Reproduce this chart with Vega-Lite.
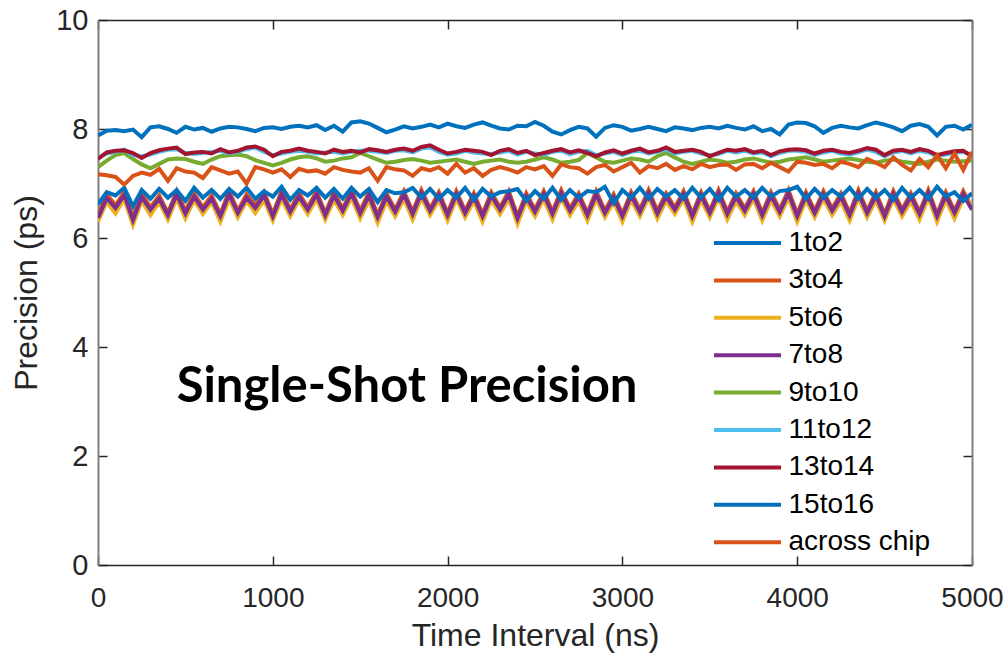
{
  "$schema": "https://vega.github.io/schema/vega-lite/v6.json",
  "width": 874,
  "height": 545,
  "autosize": {"type": "none"},
  "padding": {"left": 98, "top": 20, "right": 33, "bottom": 92},
  "background": "white",
  "config": {"view": {"stroke": null}, "font": "Liberation Sans"},
  "datasets": {
    "prec": [
      {"t":0,"1to2":7.88,"3to4":6.42,"5to6":6.30,"7to8":6.37,"9to10":7.30,"11to12":7.47,"13to14":7.45,"15to16":6.62,"across chip":7.17},
      {"t":50,"1to2":7.97,"3to4":6.80,"5to6":6.66,"7to8":6.73,"9to10":7.42,"11to12":7.55,"13to14":7.57,"15to16":6.84,"across chip":7.15},
      {"t":100,"1to2":7.98,"3to4":6.60,"5to6":6.45,"7to8":6.55,"9to10":7.52,"11to12":7.58,"13to14":7.60,"15to16":6.78,"across chip":7.12},
      {"t":150,"1to2":7.96,"3to4":6.84,"5to6":6.72,"7to8":6.79,"9to10":7.56,"11to12":7.62,"13to14":7.61,"15to16":6.92,"across chip":6.98},
      {"t":200,"1to2":7.99,"3to4":6.38,"5to6":6.24,"7to8":6.33,"9to10":7.45,"11to12":7.52,"13to14":7.56,"15to16":6.58,"across chip":7.14},
      {"t":250,"1to2":7.85,"3to4":6.82,"5to6":6.68,"7to8":6.75,"9to10":7.35,"11to12":7.50,"13to14":7.47,"15to16":6.88,"across chip":7.20},
      {"t":300,"1to2":8.03,"3to4":6.56,"5to6":6.42,"7to8":6.52,"9to10":7.28,"11to12":7.53,"13to14":7.56,"15to16":6.72,"across chip":7.16},
      {"t":350,"1to2":8.05,"3to4":6.78,"5to6":6.66,"7to8":6.72,"9to10":7.36,"11to12":7.58,"13to14":7.61,"15to16":6.90,"across chip":7.27},
      {"t":400,"1to2":8.00,"3to4":6.46,"5to6":6.34,"7to8":6.42,"9to10":7.44,"11to12":7.62,"13to14":7.64,"15to16":6.74,"across chip":7.05},
      {"t":450,"1to2":7.93,"3to4":6.86,"5to6":6.72,"7to8":6.80,"9to10":7.46,"11to12":7.63,"13to14":7.66,"15to16":6.88,"across chip":7.28},
      {"t":500,"1to2":8.04,"3to4":6.50,"5to6":6.36,"7to8":6.45,"9to10":7.45,"11to12":7.56,"13to14":7.54,"15to16":6.68,"across chip":7.22},
      {"t":550,"1to2":7.99,"3to4":6.82,"5to6":6.70,"7to8":6.76,"9to10":7.40,"11to12":7.54,"13to14":7.57,"15to16":6.92,"across chip":7.20},
      {"t":600,"1to2":8.02,"3to4":6.56,"5to6":6.44,"7to8":6.52,"9to10":7.36,"11to12":7.56,"13to14":7.58,"15to16":6.74,"across chip":7.10},
      {"t":650,"1to2":7.95,"3to4":6.78,"5to6":6.66,"7to8":6.72,"9to10":7.44,"11to12":7.58,"13to14":7.55,"15to16":6.88,"across chip":7.30},
      {"t":700,"1to2":8.01,"3to4":6.44,"5to6":6.30,"7to8":6.40,"9to10":7.50,"11to12":7.60,"13to14":7.63,"15to16":6.72,"across chip":7.24},
      {"t":750,"1to2":8.04,"3to4":6.86,"5to6":6.72,"7to8":6.80,"9to10":7.52,"11to12":7.55,"13to14":7.57,"15to16":6.90,"across chip":7.18},
      {"t":800,"1to2":8.03,"3to4":6.50,"5to6":6.38,"7to8":6.46,"9to10":7.53,"11to12":7.58,"13to14":7.60,"15to16":6.76,"across chip":7.22},
      {"t":850,"1to2":8.00,"3to4":6.80,"5to6":6.68,"7to8":6.74,"9to10":7.50,"11to12":7.63,"13to14":7.66,"15to16":6.92,"across chip":7.00},
      {"t":900,"1to2":7.96,"3to4":6.60,"5to6":6.46,"7to8":6.55,"9to10":7.43,"11to12":7.66,"13to14":7.68,"15to16":6.72,"across chip":7.30},
      {"t":950,"1to2":8.02,"3to4":6.84,"5to6":6.70,"7to8":6.78,"9to10":7.38,"11to12":7.58,"13to14":7.62,"15to16":6.86,"across chip":7.26},
      {"t":1000,"1to2":8.03,"3to4":6.44,"5to6":6.32,"7to8":6.40,"9to10":7.33,"11to12":7.52,"13to14":7.50,"15to16":6.76,"across chip":7.20},
      {"t":1050,"1to2":8.00,"3to4":6.86,"5to6":6.72,"7to8":6.80,"9to10":7.38,"11to12":7.55,"13to14":7.58,"15to16":6.94,"across chip":7.26},
      {"t":1100,"1to2":8.04,"3to4":6.52,"5to6":6.40,"7to8":6.48,"9to10":7.44,"11to12":7.58,"13to14":7.60,"15to16":6.70,"across chip":7.12},
      {"t":1150,"1to2":8.06,"3to4":6.82,"5to6":6.70,"7to8":6.76,"9to10":7.48,"11to12":7.60,"13to14":7.64,"15to16":6.88,"across chip":7.27},
      {"t":1200,"1to2":8.03,"3to4":6.56,"5to6":6.44,"7to8":6.52,"9to10":7.50,"11to12":7.58,"13to14":7.60,"15to16":6.78,"across chip":7.22},
      {"t":1250,"1to2":8.07,"3to4":6.86,"5to6":6.72,"7to8":6.80,"9to10":7.46,"11to12":7.55,"13to14":7.58,"15to16":6.92,"across chip":7.24},
      {"t":1300,"1to2":7.98,"3to4":6.46,"5to6":6.34,"7to8":6.42,"9to10":7.40,"11to12":7.57,"13to14":7.55,"15to16":6.74,"across chip":7.18},
      {"t":1350,"1to2":8.06,"3to4":6.84,"5to6":6.70,"7to8":6.78,"9to10":7.42,"11to12":7.58,"13to14":7.62,"15to16":6.90,"across chip":7.30},
      {"t":1400,"1to2":7.95,"3to4":6.54,"5to6":6.42,"7to8":6.50,"9to10":7.46,"11to12":7.55,"13to14":7.58,"15to16":6.72,"across chip":7.25},
      {"t":1450,"1to2":8.12,"3to4":6.88,"5to6":6.74,"7to8":6.82,"9to10":7.48,"11to12":7.58,"13to14":7.60,"15to16":6.92,"across chip":7.22},
      {"t":1500,"1to2":8.14,"3to4":6.50,"5to6":6.36,"7to8":6.45,"9to10":7.56,"11to12":7.60,"13to14":7.57,"15to16":6.76,"across chip":7.20},
      {"t":1550,"1to2":8.10,"3to4":6.84,"5to6":6.70,"7to8":6.78,"9to10":7.50,"11to12":7.60,"13to14":7.63,"15to16":6.90,"across chip":7.28},
      {"t":1600,"1to2":8.02,"3to4":6.42,"5to6":6.28,"7to8":6.38,"9to10":7.44,"11to12":7.58,"13to14":7.61,"15to16":6.66,"across chip":7.05},
      {"t":1650,"1to2":7.94,"3to4":6.82,"5to6":6.68,"7to8":6.76,"9to10":7.38,"11to12":7.56,"13to14":7.58,"15to16":6.88,"across chip":7.30},
      {"t":1700,"1to2":7.99,"3to4":6.52,"5to6":6.40,"7to8":6.48,"9to10":7.40,"11to12":7.60,"13to14":7.62,"15to16":6.82,"across chip":7.26},
      {"t":1750,"1to2":8.05,"3to4":6.86,"5to6":6.72,"7to8":6.80,"9to10":7.43,"11to12":7.61,"13to14":7.64,"15to16":6.84,"across chip":7.24},
      {"t":1800,"1to2":8.01,"3to4":6.48,"5to6":6.34,"7to8":6.44,"9to10":7.45,"11to12":7.57,"13to14":7.60,"15to16":6.92,"across chip":7.14},
      {"t":1850,"1to2":8.04,"3to4":6.88,"5to6":6.74,"7to8":6.82,"9to10":7.42,"11to12":7.64,"13to14":7.67,"15to16":6.74,"across chip":7.28},
      {"t":1900,"1to2":8.08,"3to4":6.54,"5to6":6.42,"7to8":6.50,"9to10":7.38,"11to12":7.66,"13to14":7.70,"15to16":6.90,"across chip":7.24},
      {"t":1950,"1to2":8.03,"3to4":6.84,"5to6":6.70,"7to8":6.78,"9to10":7.40,"11to12":7.58,"13to14":7.62,"15to16":6.72,"across chip":7.30},
      {"t":2000,"1to2":8.10,"3to4":6.46,"5to6":6.32,"7to8":6.42,"9to10":7.42,"11to12":7.53,"13to14":7.55,"15to16":6.88,"across chip":7.18},
      {"t":2050,"1to2":8.05,"3to4":6.86,"5to6":6.72,"7to8":6.80,"9to10":7.44,"11to12":7.55,"13to14":7.58,"15to16":6.74,"across chip":7.36},
      {"t":2100,"1to2":8.02,"3to4":6.50,"5to6":6.38,"7to8":6.46,"9to10":7.40,"11to12":7.60,"13to14":7.62,"15to16":6.92,"across chip":7.20},
      {"t":2150,"1to2":8.08,"3to4":6.82,"5to6":6.68,"7to8":6.76,"9to10":7.36,"11to12":7.57,"13to14":7.60,"15to16":6.70,"across chip":7.28},
      {"t":2200,"1to2":8.12,"3to4":6.44,"5to6":6.30,"7to8":6.40,"9to10":7.40,"11to12":7.55,"13to14":7.58,"15to16":6.90,"across chip":7.14},
      {"t":2250,"1to2":8.06,"3to4":6.84,"5to6":6.70,"7to8":6.78,"9to10":7.42,"11to12":7.54,"13to14":7.52,"15to16":6.76,"across chip":7.25},
      {"t":2300,"1to2":8.01,"3to4":6.56,"5to6":6.44,"7to8":6.52,"9to10":7.44,"11to12":7.57,"13to14":7.60,"15to16":6.84,"across chip":7.30},
      {"t":2350,"1to2":7.99,"3to4":6.86,"5to6":6.72,"7to8":6.80,"9to10":7.40,"11to12":7.60,"13to14":7.63,"15to16":6.86,"across chip":7.26},
      {"t":2400,"1to2":8.06,"3to4":6.40,"5to6":6.26,"7to8":6.36,"9to10":7.38,"11to12":7.53,"13to14":7.56,"15to16":6.90,"across chip":7.20},
      {"t":2450,"1to2":8.05,"3to4":6.82,"5to6":6.68,"7to8":6.76,"9to10":7.40,"11to12":7.58,"13to14":7.60,"15to16":6.68,"across chip":7.30},
      {"t":2500,"1to2":8.13,"3to4":6.52,"5to6":6.40,"7to8":6.48,"9to10":7.44,"11to12":7.55,"13to14":7.52,"15to16":6.86,"across chip":7.26},
      {"t":2550,"1to2":8.06,"3to4":6.86,"5to6":6.72,"7to8":6.80,"9to10":7.48,"11to12":7.53,"13to14":7.56,"15to16":6.72,"across chip":7.32},
      {"t":2600,"1to2":7.95,"3to4":6.48,"5to6":6.34,"7to8":6.44,"9to10":7.44,"11to12":7.58,"13to14":7.60,"15to16":6.92,"across chip":7.14},
      {"t":2650,"1to2":7.90,"3to4":6.88,"5to6":6.74,"7to8":6.82,"9to10":7.38,"11to12":7.60,"13to14":7.63,"15to16":6.70,"across chip":7.35},
      {"t":2700,"1to2":7.98,"3to4":6.54,"5to6":6.42,"7to8":6.50,"9to10":7.40,"11to12":7.54,"13to14":7.57,"15to16":6.88,"across chip":7.30},
      {"t":2750,"1to2":8.04,"3to4":6.82,"5to6":6.68,"7to8":6.76,"9to10":7.43,"11to12":7.58,"13to14":7.61,"15to16":6.74,"across chip":7.28},
      {"t":2800,"1to2":8.01,"3to4":6.46,"5to6":6.32,"7to8":6.42,"9to10":7.56,"11to12":7.60,"13to14":7.56,"15to16":6.86,"across chip":7.18},
      {"t":2850,"1to2":7.86,"3to4":6.86,"5to6":6.72,"7to8":6.80,"9to10":7.48,"11to12":7.52,"13to14":7.50,"15to16":6.84,"across chip":7.30},
      {"t":2900,"1to2":8.02,"3to4":6.50,"5to6":6.38,"7to8":6.46,"9to10":7.40,"11to12":7.55,"13to14":7.57,"15to16":6.94,"across chip":7.34},
      {"t":2950,"1to2":8.07,"3to4":6.80,"5to6":6.66,"7to8":6.74,"9to10":7.38,"11to12":7.58,"13to14":7.61,"15to16":6.64,"across chip":7.22},
      {"t":3000,"1to2":8.04,"3to4":6.44,"5to6":6.30,"7to8":6.40,"9to10":7.42,"11to12":7.52,"13to14":7.55,"15to16":6.88,"across chip":7.30},
      {"t":3050,"1to2":7.97,"3to4":6.84,"5to6":6.70,"7to8":6.78,"9to10":7.46,"11to12":7.58,"13to14":7.60,"15to16":6.74,"across chip":7.38},
      {"t":3100,"1to2":8.00,"3to4":6.52,"5to6":6.40,"7to8":6.48,"9to10":7.44,"11to12":7.60,"13to14":7.64,"15to16":6.92,"across chip":7.20},
      {"t":3150,"1to2":8.04,"3to4":6.88,"5to6":6.74,"7to8":6.82,"9to10":7.40,"11to12":7.55,"13to14":7.57,"15to16":6.72,"across chip":7.32},
      {"t":3200,"1to2":8.00,"3to4":6.50,"5to6":6.36,"7to8":6.45,"9to10":7.50,"11to12":7.58,"13to14":7.60,"15to16":6.90,"across chip":7.28},
      {"t":3250,"1to2":7.96,"3to4":6.82,"5to6":6.68,"7to8":6.76,"9to10":7.56,"11to12":7.63,"13to14":7.66,"15to16":6.76,"across chip":7.36},
      {"t":3300,"1to2":8.03,"3to4":6.56,"5to6":6.44,"7to8":6.52,"9to10":7.48,"11to12":7.55,"13to14":7.58,"15to16":6.88,"across chip":7.25},
      {"t":3350,"1to2":8.01,"3to4":6.86,"5to6":6.72,"7to8":6.80,"9to10":7.40,"11to12":7.58,"13to14":7.60,"15to16":6.72,"across chip":7.32},
      {"t":3400,"1to2":7.98,"3to4":6.44,"5to6":6.30,"7to8":6.40,"9to10":7.36,"11to12":7.60,"13to14":7.62,"15to16":6.92,"across chip":7.26},
      {"t":3450,"1to2":8.02,"3to4":6.84,"5to6":6.70,"7to8":6.78,"9to10":7.40,"11to12":7.55,"13to14":7.58,"15to16":6.74,"across chip":7.36},
      {"t":3500,"1to2":8.04,"3to4":6.50,"5to6":6.38,"7to8":6.46,"9to10":7.44,"11to12":7.52,"13to14":7.50,"15to16":6.90,"across chip":7.30},
      {"t":3550,"1to2":8.01,"3to4":6.88,"5to6":6.74,"7to8":6.82,"9to10":7.42,"11to12":7.54,"13to14":7.56,"15to16":6.70,"across chip":7.34},
      {"t":3600,"1to2":8.06,"3to4":6.48,"5to6":6.34,"7to8":6.44,"9to10":7.38,"11to12":7.60,"13to14":7.62,"15to16":6.92,"across chip":7.35},
      {"t":3650,"1to2":8.02,"3to4":6.82,"5to6":6.68,"7to8":6.76,"9to10":7.40,"11to12":7.57,"13to14":7.60,"15to16":6.76,"across chip":7.25},
      {"t":3700,"1to2":7.99,"3to4":6.54,"5to6":6.42,"7to8":6.50,"9to10":7.44,"11to12":7.60,"13to14":7.63,"15to16":6.88,"across chip":7.35},
      {"t":3750,"1to2":8.05,"3to4":6.86,"5to6":6.72,"7to8":6.80,"9to10":7.46,"11to12":7.55,"13to14":7.57,"15to16":6.74,"across chip":7.36},
      {"t":3800,"1to2":7.96,"3to4":6.46,"5to6":6.32,"7to8":6.42,"9to10":7.42,"11to12":7.57,"13to14":7.60,"15to16":6.92,"across chip":7.28},
      {"t":3850,"1to2":8.00,"3to4":6.84,"5to6":6.70,"7to8":6.78,"9to10":7.38,"11to12":7.50,"13to14":7.52,"15to16":6.76,"across chip":7.38},
      {"t":3900,"1to2":7.90,"3to4":6.52,"5to6":6.40,"7to8":6.48,"9to10":7.40,"11to12":7.56,"13to14":7.59,"15to16":6.86,"across chip":7.30},
      {"t":3950,"1to2":8.08,"3to4":6.88,"5to6":6.74,"7to8":6.82,"9to10":7.44,"11to12":7.60,"13to14":7.62,"15to16":6.88,"across chip":7.22},
      {"t":4000,"1to2":8.12,"3to4":6.44,"5to6":6.30,"7to8":6.40,"9to10":7.46,"11to12":7.60,"13to14":7.63,"15to16":6.94,"across chip":7.40},
      {"t":4050,"1to2":8.11,"3to4":6.84,"5to6":6.70,"7to8":6.78,"9to10":7.48,"11to12":7.58,"13to14":7.61,"15to16":6.72,"across chip":7.38},
      {"t":4100,"1to2":8.05,"3to4":6.50,"5to6":6.38,"7to8":6.46,"9to10":7.44,"11to12":7.52,"13to14":7.55,"15to16":6.90,"across chip":7.34},
      {"t":4150,"1to2":7.93,"3to4":6.86,"5to6":6.72,"7to8":6.80,"9to10":7.40,"11to12":7.57,"13to14":7.60,"15to16":6.74,"across chip":7.36},
      {"t":4200,"1to2":8.02,"3to4":6.54,"5to6":6.42,"7to8":6.50,"9to10":7.42,"11to12":7.60,"13to14":7.62,"15to16":6.88,"across chip":7.28},
      {"t":4250,"1to2":8.06,"3to4":6.82,"5to6":6.68,"7to8":6.76,"9to10":7.44,"11to12":7.55,"13to14":7.58,"15to16":6.76,"across chip":7.40},
      {"t":4300,"1to2":8.03,"3to4":6.46,"5to6":6.32,"7to8":6.42,"9to10":7.46,"11to12":7.53,"13to14":7.56,"15to16":6.92,"across chip":7.36},
      {"t":4350,"1to2":8.01,"3to4":6.88,"5to6":6.74,"7to8":6.82,"9to10":7.43,"11to12":7.57,"13to14":7.60,"15to16":6.72,"across chip":7.30},
      {"t":4400,"1to2":8.07,"3to4":6.50,"5to6":6.38,"7to8":6.46,"9to10":7.40,"11to12":7.62,"13to14":7.65,"15to16":6.90,"across chip":7.45},
      {"t":4450,"1to2":8.12,"3to4":6.84,"5to6":6.70,"7to8":6.78,"9to10":7.38,"11to12":7.58,"13to14":7.62,"15to16":6.74,"across chip":7.38},
      {"t":4500,"1to2":8.08,"3to4":6.44,"5to6":6.32,"7to8":6.40,"9to10":7.42,"11to12":7.50,"13to14":7.52,"15to16":6.88,"across chip":7.30},
      {"t":4550,"1to2":8.03,"3to4":6.86,"5to6":6.72,"7to8":6.80,"9to10":7.44,"11to12":7.57,"13to14":7.60,"15to16":6.70,"across chip":7.48},
      {"t":4600,"1to2":7.96,"3to4":6.52,"5to6":6.40,"7to8":6.48,"9to10":7.40,"11to12":7.60,"13to14":7.62,"15to16":6.92,"across chip":7.34},
      {"t":4650,"1to2":8.06,"3to4":6.82,"5to6":6.68,"7to8":6.76,"9to10":7.38,"11to12":7.55,"13to14":7.58,"15to16":6.74,"across chip":7.24},
      {"t":4700,"1to2":8.09,"3to4":6.48,"5to6":6.34,"7to8":6.44,"9to10":7.36,"11to12":7.60,"13to14":7.63,"15to16":6.88,"across chip":7.45},
      {"t":4750,"1to2":8.04,"3to4":6.88,"5to6":6.74,"7to8":6.82,"9to10":7.40,"11to12":7.57,"13to14":7.60,"15to16":6.72,"across chip":7.30},
      {"t":4800,"1to2":7.88,"3to4":6.44,"5to6":6.30,"7to8":6.40,"9to10":7.44,"11to12":7.50,"13to14":7.52,"15to16":6.94,"across chip":7.52},
      {"t":4850,"1to2":8.04,"3to4":6.84,"5to6":6.70,"7to8":6.78,"9to10":7.42,"11to12":7.53,"13to14":7.56,"15to16":6.76,"across chip":7.28},
      {"t":4900,"1to2":8.06,"3to4":6.50,"5to6":6.36,"7to8":6.46,"9to10":7.40,"11to12":7.56,"13to14":7.59,"15to16":6.84,"across chip":7.55},
      {"t":4950,"1to2":7.99,"3to4":6.86,"5to6":6.72,"7to8":6.80,"9to10":7.41,"11to12":7.58,"13to14":7.60,"15to16":6.68,"across chip":7.25},
      {"t":5000,"1to2":8.08,"3to4":6.56,"5to6":6.62,"7to8":6.52,"9to10":7.42,"11to12":7.52,"13to14":7.50,"15to16":6.82,"across chip":7.58}
    ],
    "note": [{"x": 1768, "y": 3.27, "label": "Single-Shot Precision"}]
  },
  "layer": [
    {
      "data": {"name": "prec"},
      "transform": [{"fold": ["1to2","3to4","5to6","7to8","9to10","11to12","13to14","15to16","across chip"], "as": ["series","precision"]}],
      "mark": {"type": "line", "strokeWidth": 4, "clip": true},
      "encoding": {
        "x": {"field": "t", "type": "quantitative", "scale": {"domain": [0, 5000], "nice": false, "zero": false},
          "axis": {"orient": "bottom", "values": [0,1000,2000,3000,4000,5000], "format": "d", "title": "Time Interval (ns)", "titleFontSize": 32, "titleFontWeight": "normal", "titleColor": "#262626", "titlePadding": 8, "labelFontSize": 28, "labelColor": "#262626", "labelPadding": 28, "labelFlush": false, "labelOverlap": false, "tickSize": -9, "tickColor": "#262626", "tickWidth": 1.5, "domainColor": "#262626", "domainWidth": 1.5, "grid": false}},
        "y": {"field": "precision", "type": "quantitative", "scale": {"domain": [0, 10], "nice": false},
          "axis": {"orient": "left", "values": [0,2,4,6,8,10], "format": "d", "title": "Precision (ps)", "titleFontSize": 32, "titleFontWeight": "normal", "titleColor": "#262626", "titlePadding": 12, "labelFontSize": 29, "labelColor": "#262626", "labelPadding": 19, "labelOverlap": false, "tickSize": -9, "tickColor": "#262626", "tickWidth": 1.5, "domainColor": "#808080", "domainWidth": 2, "grid": false}},
        "color": {"field": "series", "type": "nominal",
          "scale": {"domain": ["1to2","3to4","5to6","7to8","9to10","11to12","13to14","15to16","across chip"], "range": ["#0072BD","#D95319","#EDB120","#7E2F8E","#77AC30","#4DBEEE","#A2142F","#0072BD","#D95319"]},
          "legend": {"orient": "none", "legendX": 615, "legendY": 209, "title": null, "direction": "vertical", "symbolType": "M-3,0H3", "symbolSize": 500, "symbolStrokeWidth": 4, "symbolOffset": 20.5, "labelOffset": 27, "labelFontSize": 28, "labelColor": "#000000", "labelFont": "Liberation Sans", "rowPadding": 9.4, "padding": 0}}
      }
    },
    {
      "data": {"name": "note"},
      "mark": {"type": "text", "font": "Lato", "fontWeight": "bold", "fontSize": 49, "color": "#000000", "align": "center", "baseline": "middle"},
      "encoding": {
        "x": {"field": "x", "type": "quantitative", "axis": {"orient": "top", "values": [0,1000,2000,3000,4000,5000], "title": null, "labels": false, "tickSize": -9, "tickColor": "#262626", "tickWidth": 1.5, "domainColor": "#262626", "domainWidth": 1.5, "grid": false}},
        "y": {"field": "y", "type": "quantitative", "axis": {"orient": "right", "values": [0,2,4,6,8,10], "title": null, "labels": false, "tickSize": -9, "tickColor": "#262626", "tickWidth": 1.5, "domainColor": "#808080", "domainWidth": 2, "grid": false}},
        "text": {"field": "label"}
      }
    }
  ],
  "resolve": {"axis": {"x": "independent", "y": "independent"}}
}
